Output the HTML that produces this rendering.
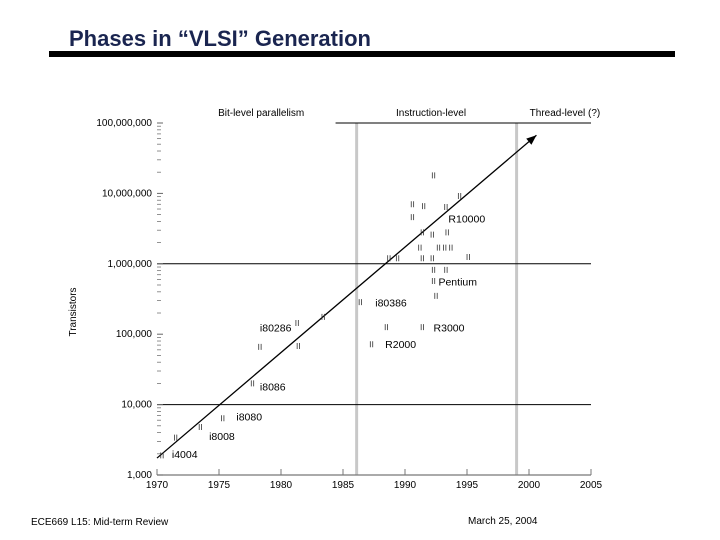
<!DOCTYPE html>
<html><head><meta charset="utf-8"><style>
body{margin:0;background:#fff;width:720px;height:540px;overflow:hidden;font-family:"Liberation Sans",sans-serif}
svg{display:block}
</style></head><body>
<svg width="720" height="540" viewBox="0 0 720 540">
<text x="69" y="46" font-size="22" font-weight="bold" fill="#1a2550">Phases in “VLSI” Generation</text>
<rect x="49" y="51" width="626" height="6" fill="#000"/>
<g id="chart"></g>
<text x="31" y="525" font-size="10" fill="#000">ECE669 L15: Mid-term Review</text>
<text x="468" y="524" font-size="10" fill="#000">March 25, 2004</text>
</svg>
<script>
const years=[1970.4,1971.5,1973.5,1975.3,1977.7,1981.3,1978.3,1981.4,1983.4,1986.4,1987.3,1988.5,1991.4,1988.7,1989.4,1991.4,1992.2,1991.2,1991.4,1992.2,1993.4,1992.3,1994.4,1990.6,1991.5,1993.3,1990.6,1992.3,1993.3,1995.1,1992.7,1993.2,1993.7,1992.5,1992.3];
const transistors=[1900,3400,4800,6400,20000,144000,66000,68000,176000,286000,72000,126000,126000,1200000,1200000,1200000,1200000,1700000,2800000,2600000,2800000,18000000,9200000,7000000,6600000,6400000,4600000,820000,820000,1250000,1700000,1700000,1700000,350000,570000];
const chipLabels=["i4004","i8008","i8080","i8086","i80286","i80386","R2000","R3000","R10000","Pentium"];
const chipLabelYears=[1971.2,1974.2,1976.4,1978.3,1978.3,1987.6,1988.4,1992.3,1993.5,1992.7];
const chipLabelValues=[2000,3600,6800,18000,125000,280000,72000,125000,4400000,560000];
const yTickLabels=["1,000","10,000","100,000","1,000,000","10,000,000","100,000,000"];
const yTickValues=[1e3,1e4,1e5,1e6,1e7,1e8];
const xTickLabels=["1970","1975","1980","1985","1990","1995","2000","2005"];
const xTickValues=[1970,1975,1980,1985,1990,1995,2000,2005];
const phaseLabels=["Bit-level parallelism","Instruction-level","Thread-level (?)"];
const phaseCenters=[1978.4,1992.1,2002.9];
const phaseBoundaries=[1986.1,1999];
const trendYears=[1970,2000.6];
const trendValues=[1740,67000000];

const NS="http://www.w3.org/2000/svg";
const g=document.getElementById('chart');
const X=y=>157+(y-1970)*12.4;
const Y=v=>475-(Math.log10(v)-3)*70.4;
function mk(t,a,p){const e=document.createElementNS(NS,t);for(const k in a)e.setAttribute(k,a[k]);(p||g).appendChild(e);return e;}

phaseBoundaries.forEach(b=>{const e=mk('rect',{x:X(b)-1.5,y:Y(1e8),width:3,height:Y(1e3)-Y(1e8),fill:'#c8c8c8'});

});
[[1e4,X(1970),X(2005)],[1e6,X(1970),X(2005)],[1e8,X(1984.4),X(2005)]].forEach(r=>{const e=mk('line',{x1:r[1],x2:r[2],y1:Y(r[0]),y2:Y(r[0]),stroke:'#000','stroke-width':1});

});
const ax=mk('line',{x1:X(1970),x2:X(2005),y1:Y(1e3),y2:Y(1e3),stroke:'#777','stroke-width':1.2});


xTickValues.forEach((v,i)=>{mk('line',{x1:X(v),x2:X(v),y1:Y(1e3)-6,y2:Y(1e3),stroke:'#777'});
const t=mk('text',{x:X(v),y:Y(1e3)+13,'font-size':10,'text-anchor':'middle'});t.textContent=xTickLabels[i];

});
yTickValues.forEach((v,i)=>{const t=mk('text',{x:152,y:Y(v)+3,'font-size':10,'text-anchor':'end'});t.textContent=yTickLabels[i];


mk('line',{x1:157,x2:163,y1:Y(v),y2:Y(v),stroke:'#666'});
if(i<5)for(let m=2;m<10;m++){mk('line',{x1:157,x2:161,y1:Y(v*m),y2:Y(v*m),stroke:'#777','stroke-width':0.8});}});
const yt=mk('text',{x:0,y:0,'font-size':10,'text-anchor':'middle',transform:'translate(76,312) rotate(-90)'});yt.textContent='Transistors';


phaseLabels.forEach((p,i)=>{const t=mk('text',{x:X(phaseCenters[i]),y:116,'font-size':10,'text-anchor':'middle'});t.textContent=p;

});
const x1=X(trendYears[0]),y1=Y(trendValues[0]),x2=X(trendYears[1]),y2=Y(trendValues[1]);
const tl=mk('line',{x1:x1,y1:y1,x2:x2,y2:y2,stroke:'#000','stroke-width':1.3});


const ang=Math.atan2(y2-y1,x2-x1),L=10,W=4;
const hx=x2-L*Math.cos(ang),hy=y2-L*Math.sin(ang);
const ah=mk('polygon',{points:`${x2},${y2} ${hx+W*Math.sin(ang)},${hy-W*Math.cos(ang)} ${hx-W*Math.sin(ang)},${hy+W*Math.cos(ang)}`,fill:'#000'});


years.forEach((yr,i)=>{const px=X(yr),py=Y(transistors[i]);
const p=mk('path',{d:`M${px-1.2},${py-3}v6M${px+1.2},${py-3}v6`,stroke:'#333','stroke-width':0.8,fill:'none'});

});
chipLabels.forEach((c,i)=>{const t=mk('text',{x:X(chipLabelYears[i]),y:Y(chipLabelValues[i])+4,'font-size':10.5});t.textContent=c;

});
</script>
</body></html>
